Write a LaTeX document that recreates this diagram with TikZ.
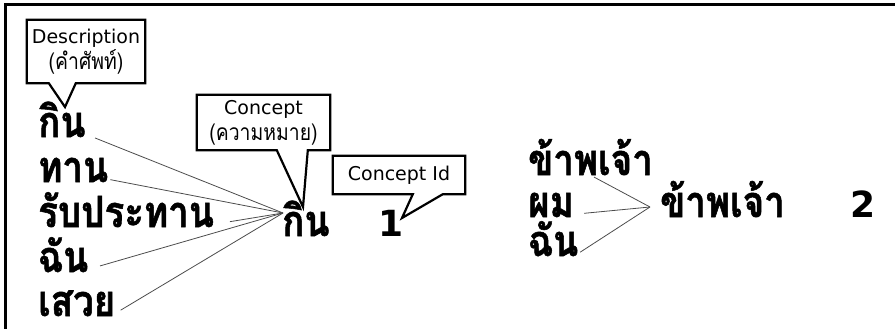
\documentclass[tikz,border=0pt]{standalone}
\usepackage{fontspec}
\setmainfont{DejaVu Sans}
\newfontfamily\thaifont[Script=Thai, Scale=1.2, FakeStretch=0.85, BoldFeatures={FakeBold=1.2}]{Loma}
\usetikzlibrary{calc}
\newcommand{\bigthai}{\thaifont\bfseries\fontsize{36}{40}\selectfont}
\newcommand{\bignum}{\bfseries\fontsize{36}{40}\selectfont}
\newcommand{\notetext}{\fontsize{19}{26}\selectfont}
% box outline with its pointer: name, base from, base to, tip
\newcommand{\pointerbox}[4]{
    \draw[note-border]
        (#1.south west) -- (#1.north west) -- (#1.north east) -- (#1.south east)
        -- ($(#1.south west)+(#3,0)$) -- (#4) -- ($(#1.south west)+(#2,0)$) -- cycle;
}
\tikzset{
    word/.style={anchor=base west, inner sep=0pt, text depth=0pt, font=\bigthai},
    number/.style={anchor=base west, inner sep=0pt, font=\bignum},
    note/.style={align=center, inner sep=0pt, font=\notetext},
    note-border/.style={line width=2.2pt, line join=miter},
    link/.style={draw=black!70, line width=0.8pt},
    frame/.style={line width=3pt}
}

\begin{document}
\begin{tikzpicture}[x=1pt, y=-1pt]
    \useasboundingbox (0,0) rectangle (895,329);
    \draw[frame] (5,329) -- (5,5) -- (895,5);

    % first concept
    \node[word] (kin1) at (38,137) {กิน};
    \node[word] (than) at (38,182) {ทาน};
    \node[word] (rubprathan) at (38,227) {รับประทาน};
    \node[word] (chan1) at (38,272) {ฉัน};
    \node[word] (sauy) at (38,316) {เสวย};
    \coordinate (kin-in) at (283,213);
    \node[word] (kin-concept) at (282,236) {กิน};
    \node[number] (id1) at (378,236) {1};

    \foreach \w/\g in {kin1/10, than/2, rubprathan/16, chan1/12, sauy/6}
        \draw[link, shorten <=\g pt] (\w.mid east) -- (kin-in);

    % second concept
    \node[word] (khaphachao1) at (528,175) {ข้าพเจ้า};
    \node[word] (phom) at (528,217) {ผม};
    \node[word] (chan2) at (528,256) {ฉัน};
    \coordinate (khaphachao-in) at (650,207);
    \node[word] (khaphachao-concept) at (660,217) {ข้าพเจ้า};
    \node[number] (id2) at (850,217) {2};

    \draw[link, shorten <=4pt] (khaphachao1.south) -- (khaphachao-in);
    \draw[link, shorten <=10pt] (phom.mid east) -- (khaphachao-in);
    \draw[link, shorten <=2pt] (chan2.mid east) -- (khaphachao-in);

    % notes
    \node[note, minimum width=118, minimum height=63] (desc-note) at (86,51.5)
        {Description\\{\thaifont(คำศัพท์)}};
    \coordinate (desc-tip) at (65,107);
    \pointerbox{desc-note}{22}{49}{desc-tip}

    \node[note, minimum width=133, minimum height=55] (concept-note) at (263.5,122.5)
        {Concept\\{\thaifont(ความหมาย)}};
    \coordinate (concept-tip) at (303,207);
    \pointerbox{concept-note}{80}{111}{concept-tip}

    \node[note, minimum width=132, minimum height=38] (id-note) at (399,175)
        {Concept Id};
    \coordinate (id-tip) at (402,218);
    \pointerbox{id-note}{80}{110}{id-tip}
\end{tikzpicture}
\end{document}
